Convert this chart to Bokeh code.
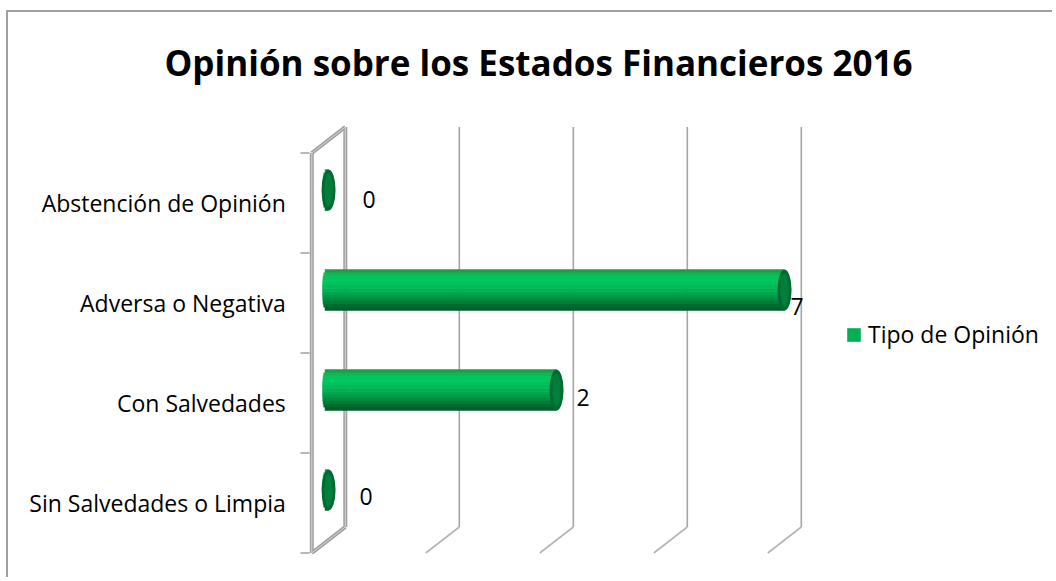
from bokeh.plotting import figure
from bokeh.models import (ColumnDataSource, Range1d, Label, LabelSet,
                          Legend, LegendItem)
from bokeh.core.properties import value
from bokeh.embed import file_html
from bokeh.resources import INLINE

# ---------------- data ----------------
title_text = "Opinión sobre los Estados Financieros 2016"
categories = ["Sin Salvedades o Limpia", "Con Salvedades",
              "Adversa o Negativa", "Abstención de Opinión"]
values = [0, 2, 7, 0]
series_name = "Tipo de Opinión"
axis_max = 4                      # fixed maximum of the value axis (bars are clipped)
grid_values = [0, 1, 2, 3, 4]

# ---------------- style ----------------
FONT = "Open Sans"
FS = "23px"
PX_X = 114.0                      # px per value unit
PX_Y = 100.0                      # px per category
DEPTH_X = 33.5 / PX_X             # 3-D depth offset
DEPTH_Y = 26.0 / PX_Y
MID_X, MID_Y = DEPTH_X / 2, DEPTH_Y / 2
BAR_H = 0.41
CAP_PX = 14
TICK_PX = 9
label_dx = [31, 20, 6, 34]
label_dy = [-6, -7, -16, -9]
body_colors = ["#1a9e4a", "#12b656", "#05c45e", "#00c860", "#00c25c", "#00b957",
               "#00b052", "#00a64c", "#009a46", "#008c3f", "#007c37", "#006c30",
               "#005e29"]
GRID_COLOR = "#a6a6a6"

W, H = 1046, 567                  # canvas starts at page (8, 12)
X0 = -(311.3 - 8) / PX_X
X1 = X0 + W / PX_X
Y1 = (552.5 - 12) / PX_Y
Y0 = Y1 - H / PX_Y

p = figure(width=W, height=H,
           x_range=Range1d(X0, X1), y_range=Range1d(Y0, Y1),
           output_backend="svg", toolbar_location=None,
           min_border_left=0, min_border_top=0, min_border_right=0,
           min_border_bottom=0)
p.styles = {"border-left": "2px solid #a0a0a0", "border-top": "2px solid #a0a0a0",
            "margin-left": "6px", "margin-top": "10px"}
p.background_fill_color = "white"
p.border_fill_color = "white"
p.outline_line_color = None
p.xaxis.visible = False
p.yaxis.visible = False
p.xgrid.visible = False
p.ygrid.visible = False

ncat = len(categories)

# ---------------- walls / gridlines ----------------
gx = [g + DEPTH_X for g in grid_values]
p.segment(x0=gx, y0=[DEPTH_Y] * len(gx), x1=gx, y1=[ncat + DEPTH_Y] * len(gx),
          line_color=GRID_COLOR, line_width=1.6)
fl = grid_values[1:]
p.segment(x0=[g + DEPTH_X for g in fl], y0=[DEPTH_Y] * len(fl), x1=fl, y1=[0] * len(fl),
          line_color="#b4b4b4", line_width=1.6)
wall_x0 = [0, 0, 0, DEPTH_X]
wall_y0 = [0, ncat, 0, DEPTH_Y]
wall_x1 = [0, DEPTH_X, DEPTH_X, DEPTH_X]
wall_y1 = [ncat, ncat + DEPTH_Y, DEPTH_Y, ncat + DEPTH_Y]
p.segment(x0=wall_x0, y0=wall_y0, x1=wall_x1, y1=wall_y1, line_color="#a0a0a0", line_width=4)
p.segment(x0=wall_x0, y0=wall_y0, x1=wall_x1, y1=wall_y1, line_color="#d4d4d4", line_width=1)

# category tick marks on the front edge of the side wall
bounds = list(range(ncat + 1))
tick_x = -0.02
p.segment(x0=[tick_x] * len(bounds), y0=bounds,
          x1=[tick_x - TICK_PX / PX_X] * len(bounds), y1=bounds,
          line_color="#a0a0a0", line_width=1.5)

# ---------------- cylinder bars ----------------
N = len(body_colors)
a = (CAP_PX / 2) / PX_X * 0.9
sx0, sx1, sy, sc = [], [], [], []
for i, v in enumerate(values):
    yc = i + 0.5 + MID_Y
    vend = min(v, axis_max) + MID_X
    for k in range(N):
        t = 1 - (k + 0.5) * 2 / N
        sy.append(yc + t * BAR_H / 2)
        sx0.append(MID_X - a * (1 - abs(t) ** 3) ** (1 / 3))
        sx1.append(vend)
        sc.append(body_colors[k])
strips = p.hbar(y=sy, left=sx0, right=sx1, height=BAR_H / N * 1.15,
                fill_color=sc, line_color=None)

cap_x = [min(v, axis_max) + MID_X for v in values]
cap_y = [i + 0.5 + MID_Y for i in range(ncat)]
p.ellipse(x=cap_x, y=cap_y, width=CAP_PX, height=BAR_H, width_units="screen",
          fill_color="#006b31", line_color=None)
p.ellipse(x=cap_x, y=cap_y, width=CAP_PX * 0.6, height=BAR_H * 0.8, width_units="screen",
          fill_color="#007e3b", line_color=None)

# ---------------- legend ----------------
legend = Legend(items=[LegendItem(label=series_name, renderers=[strips], index=6)],
                location=(837, 229), orientation="vertical",
                glyph_width=17, glyph_height=17, label_standoff=6, label_height=20,
                label_text_font=FONT, label_text_font_size=FS,
                label_text_color="#000000", margin=0, padding=3,
                border_line_color=None, background_fill_alpha=0)
p.add_layout(legend, "center")

# ---------------- category labels ----------------
cat_src = ColumnDataSource(dict(x=[0] * ncat, y=[i + 0.5 for i in range(ncat)],
                                text=categories))
p.add_layout(LabelSet(x="x", y="y", text="text", source=cat_src, x_offset=-26,
                      text_font=value(FONT), text_font_size=FS, text_color="#000000",
                      text_align="right", text_baseline="middle"))

# ---------------- value labels ----------------
lab_src = ColumnDataSource(dict(
    x=cap_x, y=cap_y, text=[str(v) for v in values], dx=label_dx, dy=label_dy))
p.add_layout(LabelSet(x="x", y="y", text="text", source=lab_src,
                      x_offset="dx", y_offset="dy",
                      text_font=value(FONT), text_font_size=FS,
                      text_color="#000000", text_align="left", text_baseline="middle"))

# ---------------- title ----------------
p.add_layout(Label(x=(538 - 311.3) / PX_X, y=(552.5 - 62) / PX_Y, text=title_text,
                   text_font=FONT, text_font_style="bold", text_font_size="35px",
                   text_align="center", text_baseline="middle", text_color="#000000"))

open("out.html", "w").write(file_html(p, INLINE))
